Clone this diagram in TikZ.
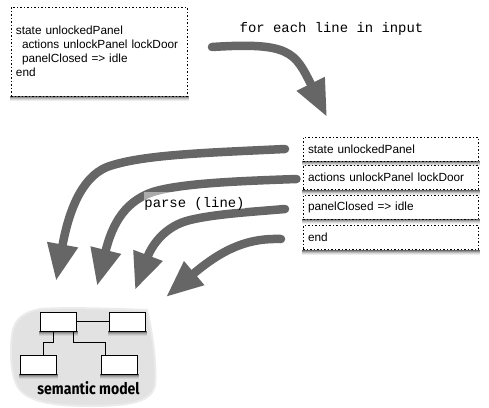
\documentclass[tikz,border=0pt]{standalone}
\usepackage{fontspec}
\setmainfont{Liberation Sans}
\setmonofont{Liberation Mono}
\newfontfamily\modelfont{Fira Sans}
\usetikzlibrary{arrows.meta}
\definecolor{flowgray}{HTML}{666666}
\definecolor{blobgray}{HTML}{E2E2E2}
\begin{document}
\begin{tikzpicture}[x=1pt, y=-1pt, font=\fontsize{11.8}{14}\selectfont,
        linebox/.style={draw, fill=white, dash pattern=on 1.5pt off 2pt, line width=.8pt,
            minimum width=175pt, minimum height=24pt, text width=165pt, inner xsep=5pt, align=left},
        modelbox/.style={draw, fill=white, line width=.7pt, minimum width=36pt, minimum height=19pt, inner sep=0pt},
        flow/.style={draw=flowgray, line width=8.5pt, line cap=round, -{Triangle[length=37pt,width=29pt,fill=flowgray]}},
        remark/.style={font=\fontsize{13.9}{14}\ttfamily}]
        \useasboundingbox (0,0) rectangle (489,407);
        % blob behind the model
        \filldraw[fill=blobgray, draw=blobgray!70, line width=2pt] (40,309) .. controls (70,307) and (120,309) .. (147,310) .. controls (152,330) and (157,365) .. (155,385)
            .. controls (152,402) and (130,406) .. (90,406) .. controls (55,406) and (30,402) .. (20,390)
            .. controls (10,378) and (10,350) .. (12,335) .. controls (14,318) and (25,312) .. (40,309) -- cycle;
        % text and lines
        \node (script) at (99,51.5) [linebox, minimum width=176pt, minimum height=89pt, text width=166pt]
            {state unlockedPanel\\\hspace*{6pt}actions unlockPanel lockDoor\\\hspace*{6pt}panelClosed => idle\\end};
        \node (lineA) at (390.5,149) [linebox] {state unlockedPanel};
        \node (lineB) at (390.5,177.5) [linebox] {actions unlockPanel lockDoor};
        \node (lineC) at (390.5,207) [linebox] {panelClosed => idle};
        \node (lineD) at (390.5,237.5) [linebox] {end};
        % flows
        \coordinate (splitin) at (212,47);
        \coordinate (splitout) at (327,117);
        \coordinate (startA) at (285,149);
        \coordinate (startB) at (296.5,179);
        \coordinate (startC) at (285,209);
        \coordinate (startD) at (281,239);
        \coordinate (tipA) at (56,281);
        \coordinate (tipB) at (97,286);
        \coordinate (tipC) at (135,290);
        \coordinate (tipD) at (166,297);
        \draw[flow] (splitin) .. controls (290,42) and (295,52) .. (splitout);
        \draw[flow] (startA) .. controls (200,153) and (140,155) .. (107,167) .. controls (80,178) and (68,215) .. (tipA);
        \draw[flow] (startB) .. controls (240,181) and (190,183) .. (160,190) .. controls (125,198) and (112,225) .. (tipB);
        \draw[flow] (startC) .. controls (250,212) and (215,214) .. (190,220) .. controls (165,226) and (152,245) .. (tipC);
        \draw[flow] (startD) .. controls (250,238) and (225,247) .. (tipD);
        \node (foreach) at (331.5,29) [remark] {for each line in input};
        \node (parse) at (194.5,207) [anchor=base, remark, fill=white, fill opacity=.45, text opacity=1, inner xsep=0pt, inner ysep=0pt, text height=15pt, text depth=2pt] {parse (line)};
        % semantic model
        \node (modelA) at (58.5,321.5) [modelbox] {};
        \node (modelB) at (127.5,321.5) [modelbox] {};
        \node (modelC) at (38.5,364.5) [modelbox] {};
        \node (modelD) at (119.5,364.5) [modelbox] {};
        \draw[line width=.7pt] (modelA) -- (modelB);
        \draw[line width=.7pt] ([xshift=-5.5pt]modelA.south) -- ++(0,11) -| ([xshift=4.5pt]modelC.north);
        \draw[line width=.7pt] ([xshift=14.5pt]modelA.south) -- ++(0,11) -| ([xshift=-14.5pt]modelD.north);
        \node (modellabel) at (88.5,388) [xscale=.88, transform shape] {\modelfont\bfseries\fontsize{16}{16}\selectfont semantic model};
        % shadows under the boxes
        \foreach \boxname in {script,lineA,lineB,lineC,lineD,modelA,modelB,modelC,modelD}
            \foreach \drop/\shade in {0/.6,1/.42,2/.27,3/.15,4/.07}
                \fill[black, fill opacity=\shade] ([xshift=-1pt,yshift=-\drop pt]\boxname.south west) rectangle ([xshift=1.5pt,yshift=-\drop pt-1pt]\boxname.south east);
\end{tikzpicture}
\end{document}
